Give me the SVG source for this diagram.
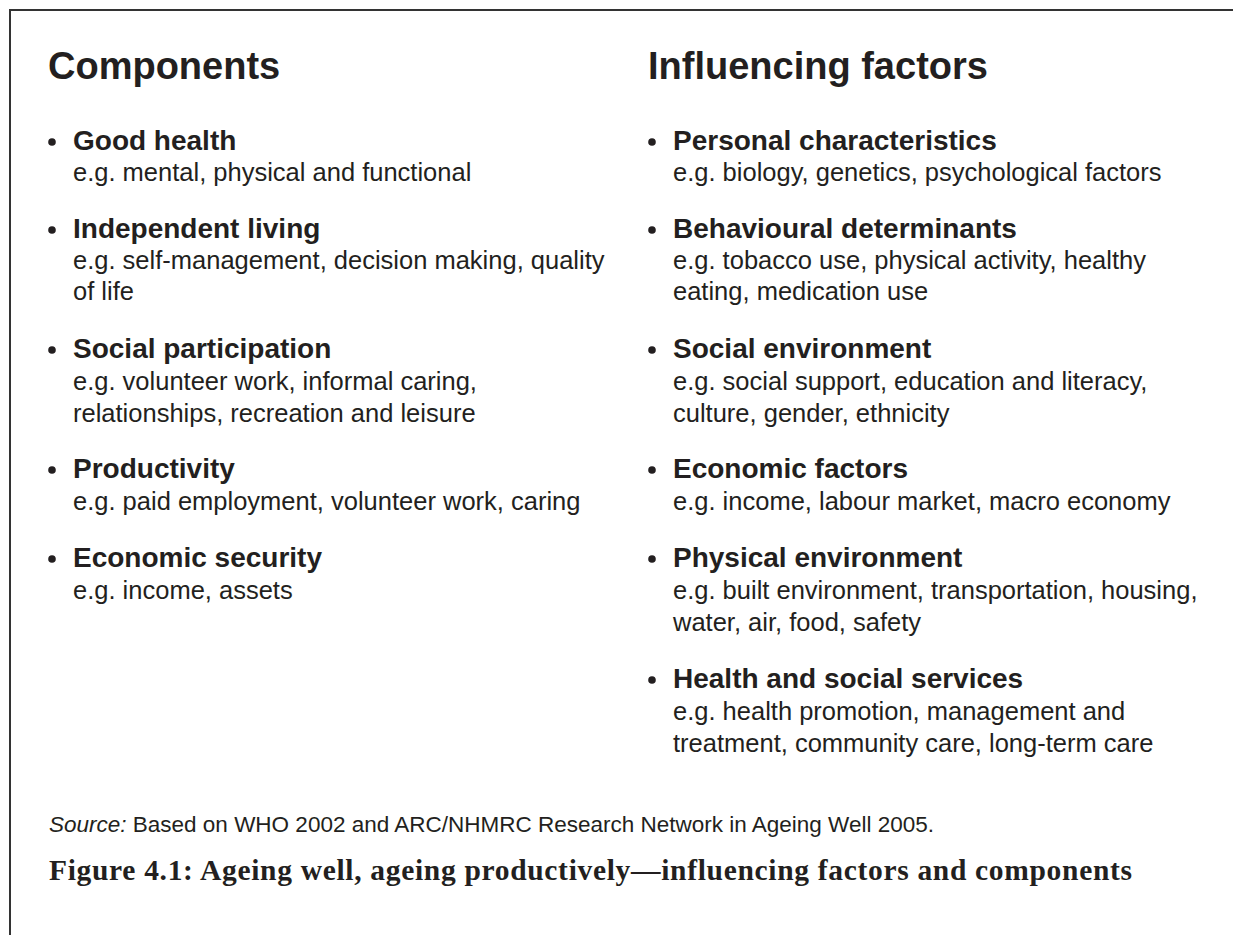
<svg xmlns="http://www.w3.org/2000/svg" width="1233" height="935" viewBox="0 0 1233 935">
<style>
.h{font-family:"Liberation Sans",Arial,sans-serif;font-weight:bold;font-size:38px;fill:#231f20}
.t{font-family:"Liberation Sans",Arial,sans-serif;font-weight:bold;font-size:28px;fill:#231f20}
.d{font-family:"Liberation Sans",Arial,sans-serif;font-size:25.5px;fill:#231f20}
.s{font-family:"Liberation Sans",Arial,sans-serif;font-size:22.5px;fill:#231f20}
.c{font-family:"Liberation Serif","Times New Roman",serif;font-weight:bold;font-size:29.5px;fill:#231f20}
.bul{fill:#231f20}
</style>
<rect width="1233" height="935" fill="#ffffff"/>
<path d="M1233,10 H10 V935" fill="none" stroke="#333333" stroke-width="2"/>

<g id="components">
<text class="h" x="48" y="79">Components</text>
<g id="good-health"><circle class="bul" cx="52" cy="142" r="3.8"/><text class="t" x="73" y="150">Good health</text><text class="d" x="73" y="181">e.g. mental, physical and functional</text></g>
<g id="independent-living"><circle class="bul" cx="52" cy="230" r="3.8"/><text class="t" x="73" y="238">Independent living</text><text class="d" x="73" y="269">e.g. self-management, decision making, quality</text><text class="d" x="73" y="300">of life</text></g>
<g id="social-participation"><circle class="bul" cx="52" cy="350" r="3.8"/><text class="t" x="73" y="358">Social participation</text><text class="d" x="73" y="390">e.g. volunteer work, informal caring,</text><text class="d" x="73" y="422">relationships, recreation and leisure</text></g>
<g id="productivity"><circle class="bul" cx="52" cy="470" r="3.8"/><text class="t" x="73" y="478">Productivity</text><text class="d" x="73" y="510">e.g. paid employment, volunteer work, caring</text></g>
<g id="economic-security"><circle class="bul" cx="52" cy="559" r="3.8"/><text class="t" x="73" y="567">Economic security</text><text class="d" x="73" y="599">e.g. income, assets</text></g>
</g>

<g id="influencing-factors">
<text class="h" x="648" y="79">Influencing factors</text>
<g id="personal"><circle class="bul" cx="652" cy="142" r="3.8"/><text class="t" x="673" y="150">Personal characteristics</text><text class="d" x="673" y="181">e.g. biology, genetics, psychological factors</text></g>
<g id="behavioural"><circle class="bul" cx="652" cy="230" r="3.8"/><text class="t" x="673" y="238">Behavioural determinants</text><text class="d" x="673" y="269">e.g. tobacco use, physical activity, healthy</text><text class="d" x="673" y="300">eating, medication use</text></g>
<g id="social-environment"><circle class="bul" cx="652" cy="350" r="3.8"/><text class="t" x="673" y="358">Social environment</text><text class="d" x="673" y="390">e.g. social support, education and literacy,</text><text class="d" x="673" y="422">culture, gender, ethnicity</text></g>
<g id="economic-factors"><circle class="bul" cx="652" cy="470" r="3.8"/><text class="t" x="673" y="478">Economic factors</text><text class="d" x="673" y="510">e.g. income, labour market, macro economy</text></g>
<g id="physical-environment"><circle class="bul" cx="652" cy="559" r="3.8"/><text class="t" x="673" y="567">Physical environment</text><text class="d" x="673" y="599">e.g. built environment, transportation, housing,</text><text class="d" x="673" y="631">water, air, food, safety</text></g>
<g id="health-services"><circle class="bul" cx="652" cy="680" r="3.8"/><text class="t" x="673" y="688">Health and social services</text><text class="d" x="673" y="720">e.g. health promotion, management and</text><text class="d" x="673" y="752">treatment, community care, long-term care</text></g>
</g>

<g id="source"><text class="s" x="49" y="832"><tspan font-style="italic">Source:</tspan> Based on WHO 2002 and ARC/NHMRC Research Network in Ageing Well 2005.</text></g>
<g id="caption"><text class="c" x="49" y="880" textLength="1083" lengthAdjust="spacing">Figure 4.1: Ageing well, ageing productively—influencing factors and components</text></g>
</svg>
